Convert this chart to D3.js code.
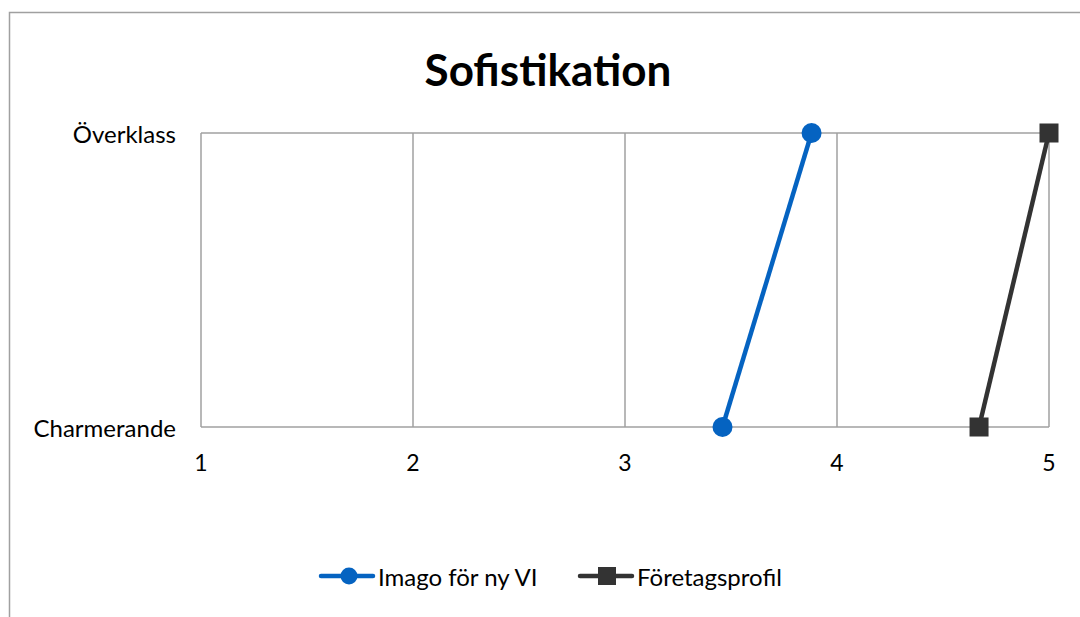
<!DOCTYPE html>
<html>
<head>
<meta charset="utf-8">
<script src="https://cdn.jsdelivr.net/npm/d3@7"></script>
<style>
  body { margin: 0; background: #fff; }
  svg { display: block; font-family: Lato, "Open Sans", sans-serif; }
</style>
</head>
<body>
<div id="chart"></div>
<script>
// data
var categories = ["Charmerande", "Överklass"];
var xTicks = [1, 2, 3, 4, 5];
var imagoValues = [3.46, 3.88];
var profilValues = [4.67, 5];
var seriesNames = ["Imago för ny VI", "Företagsprofil"];

var width = 1080, height = 617;
var margin = {top: 133, left: 201, right: 31, bottom: 190};

var svg = d3.select("#chart").append("svg")
  .attr("width", width)
  .attr("height", height);

// outer chart frame (runs off page on right/bottom)
svg.append("rect")
  .attr("x", 9.5).attr("y", 12.5)
  .attr("width", 1100).attr("height", 700)
  .attr("fill", "none")
  .attr("stroke", "#a0a0a0")
  .attr("stroke-width", 1.5);

svg.append("text")
  .attr("x", 548).attr("y", 86)
  .attr("text-anchor", "middle")
  .style("font-size", "44px")
  .style("font-weight", "bold")
  .text("Sofistikation");

var x = d3.scaleLinear().domain([1, 5]).range([margin.left, width - margin.right]);
var y = d3.scalePoint().domain(categories).range([height - margin.bottom, margin.top]);

// grid
var g = svg.append("g");
g.selectAll(".vgrid").data(xTicks).enter().append("line")
  .attr("x1", function(d){ return x(d); })
  .attr("x2", function(d){ return x(d); })
  .attr("y1", y(categories[1])).attr("y2", y(categories[0]))
  .attr("stroke", "#a0a0a0").attr("stroke-width", 1.5);
g.selectAll(".hgrid").data(categories).enter().append("line")
  .attr("x1", x(1)).attr("x2", x(5))
  .attr("y1", function(d){ return y(d); })
  .attr("y2", function(d){ return y(d); })
  .attr("stroke", "#a0a0a0").attr("stroke-width", 1.5);

// axes labels
svg.selectAll(".xlab").data(xTicks).enter().append("text")
  .attr("x", function(d){ return x(d); })
  .attr("y", y(categories[0]) + 44)
  .attr("text-anchor", "middle")
  .style("font-size", "23px")
  .text(function(d){ return d; });

svg.selectAll(".ylab").data(categories).enter().append("text")
  .attr("x", 176)
  .attr("y", function(d){ return y(d) + 10; })
  .attr("text-anchor", "end")
  .style("font-size", "24px")
  .text(function(d){ return d; });

var line = d3.line()
  .x(function(d){ return x(d.v); })
  .y(function(d){ return y(d.c); });

function pts(vals) {
  return vals.map(function(v, i){ return {v: v, c: categories[i]}; });
}

var blue = "#0563c1", dark = "#333333";

svg.append("path").datum(pts(imagoValues))
  .attr("d", line).attr("fill", "none")
  .attr("stroke", blue).attr("stroke-width", 4.5);
svg.selectAll(".dot").data(pts(imagoValues)).enter().append("circle")
  .attr("cx", function(d){ return x(d.v); })
  .attr("cy", function(d){ return y(d.c); })
  .attr("r", 10).attr("fill", blue);

svg.append("path").datum(pts(profilValues))
  .attr("d", line).attr("fill", "none")
  .attr("stroke", dark).attr("stroke-width", 4.5);
svg.selectAll(".sq").data(pts(profilValues)).enter().append("rect")
  .attr("x", function(d){ return x(d.v) - 9.5; })
  .attr("y", function(d){ return y(d.c) - 9.5; })
  .attr("width", 19).attr("height", 19).attr("fill", dark);

// legend
var legend = [
  {name: seriesNames[0], color: blue, shape: "circle", x: 319},
  {name: seriesNames[1], color: dark, shape: "square", x: 578}
];
var ly = 576;
legend.forEach(function(l){
  svg.append("line")
    .attr("x1", l.x + 2).attr("x2", l.x + 54)
    .attr("y1", ly).attr("y2", ly)
    .attr("stroke", l.color).attr("stroke-width", 4.5)
    .attr("stroke-linecap", "round");
  if (l.shape == "circle")
    svg.append("circle").attr("cx", l.x + 30).attr("cy", ly).attr("r", 8.5).attr("fill", l.color);
  else
    svg.append("rect").attr("x", l.x + 20).attr("y", ly - 9).attr("width", 18).attr("height", 18).attr("fill", l.color);
  svg.append("text")
    .attr("x", l.x + 59).attr("y", ly + 10)
    .style("font-size", "24px")
    .text(l.name);
});
</script>
</body>
</html>
